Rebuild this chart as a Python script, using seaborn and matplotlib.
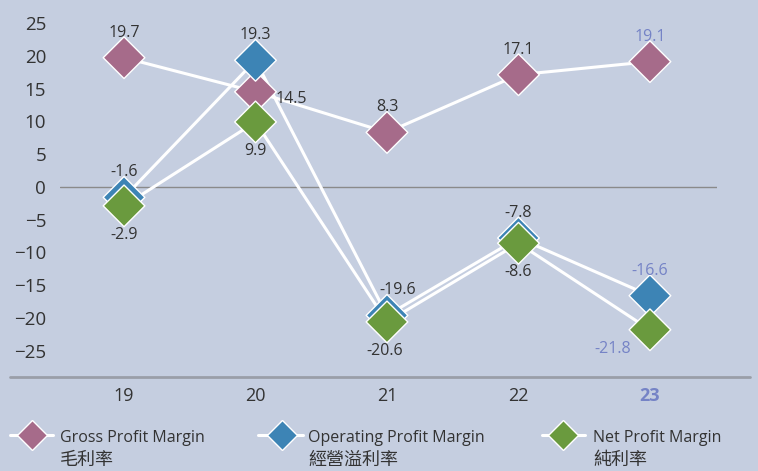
import pandas as pd
import numpy as np
import seaborn as sns
import matplotlib.pyplot as plt
from matplotlib.lines import Line2D

# dati
years = [19, 20, 21, 22, 23]
gross = [19.7, 14.5, 8.3, 17.1, 19.1]
operating = [-1.6, 19.3, -19.6, -7.8, -16.6]
net = [-2.9, 9.9, -20.6, -8.6, -21.8]
series_en = ['Gross Profit Margin', 'Operating Profit Margin', 'Net Profit Margin']
series_zh = ['毛利率', '經營溢利率', '純利率']
yticks = [-25, -20, -15, -10, -5, 0, 5, 10, 15, 20, 25]

bg = '#C5CEE0'
colors = ['#A66B8A', '#3D84B5', '#6A9A3E']
dark = '#333333'
accent = '#7583C6'

df = pd.DataFrame({
    'year': years * 3,
    'value': gross + operating + net,
    'series': [s for s in series_en for _ in years],
})

sns.set_style('white')
plt.rcParams['font.family'] = ['Open Sans', 'Noto Sans CJK TC', 'DejaVu Sans']

fig = plt.figure(figsize=(7.58, 4.71), dpi=100)
fig.patch.set_facecolor(bg)
ax = fig.add_axes([60 / 758, 1 - 377 / 471, 657 / 758, 377 / 471])
ax.set_facecolor(bg)

ax.axhline(0, color='#8A8A8A', lw=1, zorder=1)

# linee bianche
for s in series_en:
    sub = df[df['series'] == s]
    sns.lineplot(data=sub, x='year', y='value', color='white', lw=2.2, ax=ax, zorder=2)

# marker
sns.scatterplot(data=df, x='year', y='value', hue='series', palette=colors,
                marker='D', s=450, edgecolor='white', linewidth=1, ax=ax,
                legend=False, zorder=3)

ax.set_xlim(18.513, 23.51)
ax.set_ylim(-29.0, 28.5)
ax.set_yticks(yticks)
ax.set_xticks(years)
ax.set_xticklabels([str(y) for y in years])
ax.tick_params(axis='y', length=0, pad=10, labelsize=13.5, labelcolor=dark)
ax.tick_params(axis='x', length=0, pad=7, labelsize=13, labelcolor=dark)
for lbl in ax.get_xticklabels():
    if lbl.get_text() == '23':
        lbl.set_color(accent)
        lbl.set_fontweight('bold')
ax.set_xlabel('')
ax.set_ylabel('')
sns.despine(ax=ax, left=True, bottom=True, top=True, right=True)

# etichette dei valori
label_offsets = {
    'Gross Profit Margin': [(0, 18), (26, -5), (0, 18), (0, 18), (0, 18)],
    'Operating Profit Margin': [(0, 18), (0, 18), (8, 18), (0, 18), (0, 18)],
    'Net Profit Margin': [(0, -21), (0, -21), (-2, -21), (0, -21), (-27, -14)],
}
for s, vals in zip(series_en, [gross, operating, net]):
    for i, (x, v) in enumerate(zip(years, vals)):
        dx, dy = label_offsets[s][i]
        col = accent if x == 23 else dark
        ax.annotate(f'{v:.1f}', (x, v), xytext=(dx, dy), textcoords='offset points',
                    ha='center', va='center', fontsize=11.5, color=col)

# linea di base
fig.add_artist(Line2D([10 / 758, 750 / 758], [1 - 377 / 471] * 2,
                      color='#9A9EA8', lw=2, transform=fig.transFigure))

# legenda
leg_x = [(10, 32, 53, 60), (258, 282, 303, 308), (542, 563, 585, 593)]
for (x0, xm, x1, xt), c, en, zh in zip(leg_x, colors, series_en, series_zh):
    y = 1 - 435 / 471
    fig.add_artist(Line2D([x0 / 758, x1 / 758], [y, y], color='white', lw=2.2,
                          transform=fig.transFigure))
    fig.add_artist(Line2D([xm / 758], [y], marker='D', markersize=15.5, color=c,
                          markeredgecolor='white', markeredgewidth=1,
                          transform=fig.transFigure))
    fig.text(xt / 758, 1 - 438 / 471, en, fontsize=11.5, color=dark, va='center')
    fig.text(xt / 758, 1 - 460 / 471, zh, fontsize=13, color=dark, va='center',
             family=['Noto Sans CJK TC', 'DejaVu Sans'])

plt.savefig('out.png', dpi=100, facecolor=bg)
